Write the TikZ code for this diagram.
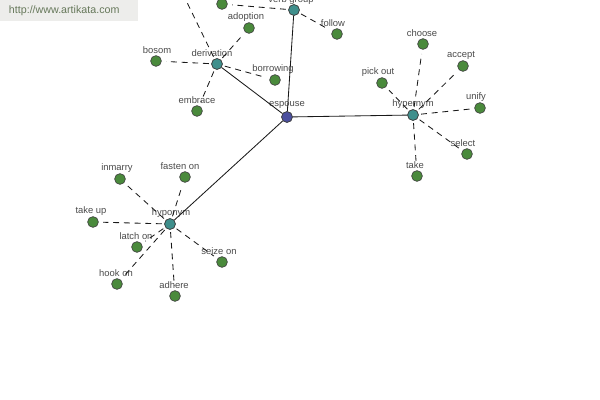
\documentclass[tikz,border=0pt]{standalone}
\usepackage{fontspec}
\setmainfont{Liberation Sans}
\usetikzlibrary{positioning}
\definecolor{akLeaf}{HTML}{4A8A3C}
\definecolor{akHub}{HTML}{3F8F8C}
\definecolor{akRoot}{HTML}{4B4F9E}
\definecolor{akInk}{HTML}{4A4A4A}
\definecolor{akMark}{HTML}{EDEDEB}
\definecolor{akMarkText}{HTML}{66785A}
\tikzset{
  akDot/.style={circle,draw=black!75,line width=0.45pt,minimum size=2.7mm,inner sep=0pt},
  akLeafDot/.style={akDot,fill=akLeaf},
  akHubDot/.style={akDot,fill=akHub},
  akRootDot/.style={akDot,fill=akRoot},
  akTag/.style={font=\fontsize{6.7}{7}\selectfont,text=akInk,inner sep=0.5pt},
  akLink/.style={line width=0.6pt,draw=black!90},
  akSoft/.style={akLink,dash pattern=on 4.2pt off 3.4pt,shorten >=1.1mm,shorten <=0.6mm}
}
\begin{document}
\begin{tikzpicture}[x=0.025cm,y=-0.025cm]
\useasboundingbox (0,0) rectangle (600,400);
\clip (0,0) rectangle (600,400);
% watermark
\fill[akMark] (0,0) rectangle (138,21);
\node[anchor=west,font=\fontsize{7.6}{8}\selectfont,text=akMarkText] (site) at (4,11) {http://www.artikata.com};
% hubs
\node[akRootDot] (espouse) at (287,117) {};
\node[akHubDot] (derivation) at (217,64) {};
\node[akHubDot] (verbgroup) at (294,10) {};
\node[akHubDot] (hypernym) at (413,115) {};
\node[akHubDot] (hyponym) at (170,224) {};
\coordinate (offtop) at (180,-12);
% leaves
\foreach \nm/\x/\y in {adoption/249/28,follow/337/34,topleaf/222/4,bosom/156/61,borrowing/275/80,embrace/197/111,
  choose/423/44,accept/463/66,pickout/382/83,unify/480/108,select/467/154,take/417/176,
  inmarry/120/179,fastenon/185/177,takeup/93/222,latchon/137/247,hookon/117/284,adhere/175/296,seizeon/222/262}
  \node[akLeafDot] (\nm) at (\x,\y) {};
% labels
\foreach \tx/\x/\y in {espouse/287/105,derivation/212/53,verb group/291/0,hypernym/413/104,hyponym/171/213,
  adoption/246/17,follow/333/23,bosom/157/50,borrowing/273/69,embrace/197/100,
  choose/422/33,accept/461/55,pick out/378/72,unify/476/97,select/463/143,take/415/165,
  inmarry/117/168,fasten on/180/166,take up/91/211,latch on/136/236,hook on/116/273,adhere/174/285,seize on/219/251}
  \node[akTag] at (\x,\y) {\tx};
% solid links
\draw[akLink] (espouse) -- (derivation);
\draw[akLink] (espouse) -- (verbgroup);
\draw[akLink] (espouse) -- (hypernym);
\draw[akLink] (espouse) -- (hyponym);
% dashed links
\foreach \nm in {adoption,bosom,borrowing,embrace,offtop}
  \draw[akSoft] (derivation) -- (\nm);
\foreach \nm in {follow,topleaf}
  \draw[akSoft] (verbgroup) -- (\nm);
\foreach \nm in {choose,accept,pickout,unify,select,take}
  \draw[akSoft] (hypernym) -- (\nm);
\foreach \nm in {inmarry,fastenon,takeup,latchon,hookon,adhere,seizeon}
  \draw[akSoft] (hyponym) -- (\nm);
% dots on top
\foreach \nm in {derivation,verbgroup,hypernym,hyponym}
  \node[akHubDot] at (\nm) {};
\node[akRootDot] at (espouse) {};
\end{tikzpicture}
\end{document}
